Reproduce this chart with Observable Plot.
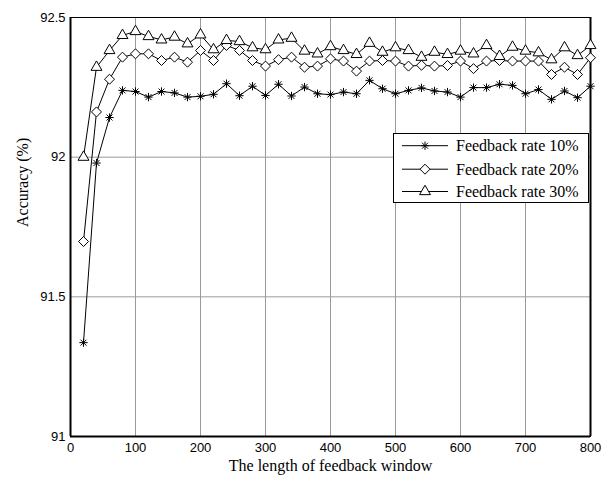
<!DOCTYPE html>
<html><head><meta charset="utf-8">
<script src="https://cdn.jsdelivr.net/npm/d3@7"></script>
<script src="https://cdn.jsdelivr.net/npm/@observablehq/plot@0.6"></script>
<style>
body{margin:0;background:#fff;}
#wrap{position:relative;width:603px;height:484px;}
#legend{position:absolute;left:393px;top:133px;width:194px;height:68px;border:1px solid #000;background:#fff;}
</style></head><body><div id="wrap"></div>
<script>
const windowLength = [20,40,60,80,100,120,140,160,180,200,220,240,260,280,300,320,340,360,380,400,420,440,460,480,500,520,540,560,580,600,620,640,660,680,700,720,740,760,780,800];
const rate10 = [91.336,91.979,92.142,92.239,92.235,92.215,92.235,92.23,92.215,92.218,92.225,92.263,92.22,92.254,92.221,92.261,92.219,92.251,92.227,92.224,92.233,92.227,92.275,92.245,92.227,92.239,92.248,92.237,92.233,92.215,92.249,92.249,92.261,92.257,92.227,92.242,92.207,92.237,92.213,92.254];
const rate20 = [91.698,92.162,92.279,92.358,92.37,92.37,92.346,92.358,92.34,92.382,92.346,92.40,92.382,92.346,92.326,92.349,92.358,92.322,92.326,92.352,92.344,92.308,92.344,92.346,92.344,92.326,92.329,92.326,92.328,92.344,92.317,92.344,92.346,92.344,92.344,92.344,92.296,92.322,92.296,92.356];
const rate30 = [92.0,92.322,92.382,92.436,92.45,92.432,92.42,92.43,92.406,92.438,92.385,92.418,92.414,92.392,92.385,92.42,92.426,92.38,92.37,92.396,92.382,92.368,92.408,92.376,92.392,92.382,92.358,92.376,92.368,92.38,92.37,92.4,92.361,92.394,92.38,92.374,92.349,92.392,92.364,92.4];
const seriesNames = ["Feedback rate 10%","Feedback rate 20%","Feedback rate 30%"];
const xTicks = [0,100,200,300,400,500,600,700,800];
const yTicks = [91,91.5,92,92.5];
const xLabel = "The length of feedback window";
const yLabel = "Accuracy (%)";

const rows = (vals, name) => windowLength.map((x,i)=>({x, y: vals[i], name}));
const d10 = rows(rate10, seriesNames[0]);
const d20 = rows(rate20, seriesNames[1]);
const d30 = rows(rate30, seriesNames[2]);

const serif = "'Liberation Serif','Times New Roman',serif";
const R10 = 2.8, R20 = 4.5, R30 = 5.2;

const plot = Plot.plot({
  width: 603, height: 484,
  marginLeft: 70, marginRight: 13, marginTop: 17, marginBottom: 48,
  style: {fontFamily: "'Liberation Sans', Arial, sans-serif", fontSize: "13px", background: "white", color: "black", overflow: "visible"},
  x: {domain: [0, 800], ticks: xTicks, tickSize: 0, tickPadding: 6, label: null, tickFormat: d => String(d)},
  y: {domain: [91, 92.5], ticks: yTicks, tickSize: 0, tickPadding: 5, label: null, tickFormat: d => String(d)},
  marks: [
    Plot.gridX(xTicks, {stroke: "#9a9a9a", strokeOpacity: 1}),
    Plot.gridY(yTicks, {stroke: "#9a9a9a", strokeOpacity: 1}),
    Plot.frame({stroke: "black", strokeWidth: 1}),
    Plot.ruleX([0, 800], {stroke: "black", strokeWidth: 2}),
    Plot.ruleY([91], {stroke: "black", strokeWidth: 2}),
    Plot.line(d10, {x: "x", y: "y", stroke: "black", strokeWidth: 1}),
    Plot.dot(d10, {x: "x", y: "y", symbol: "plus", r: R10, stroke: "black", strokeWidth: 1}),
    Plot.dot(d10, {x: "x", y: "y", symbol: "times", r: R10, stroke: "black", strokeWidth: 1}),
    Plot.line(d20, {x: "x", y: "y", stroke: "black", strokeWidth: 1}),
    Plot.dot(d20, {x: "x", y: "y", symbol: "diamond2", r: R20, stroke: "black", fill: "white", strokeWidth: 1}),
    Plot.line(d30, {x: "x", y: "y", stroke: "black", strokeWidth: 1}),
    Plot.dot(d30, {x: "x", y: "y", symbol: "triangle2", r: R30, stroke: "black", fill: "white", strokeWidth: 1}),
    Plot.text([xLabel], {frameAnchor: "bottom", dy: 34, fontFamily: serif, fontSize: 16, fill: "black"}),
    Plot.text([yLabel], {frameAnchor: "left", dx: -48, rotate: -90, fontFamily: serif, fontSize: 16, fill: "black"})
  ]
});
const wrap = document.getElementById("wrap");
wrap.appendChild(plot);

// legend
const legend = document.createElement("div");
legend.id = "legend";
wrap.appendChild(legend);
const lsvg = d3.select(legend).append("svg").attr("width", 194).attr("height", 68).style("display","block");
const rowY = [11.7, 35.2, 57.5];
const symSets = [
  [[d3.symbolPlus, R10], [d3.symbolTimes, R10]],
  [[d3.symbolDiamond2, R20]],
  [[d3.symbolTriangle2, R30]]
];
seriesNames.forEach((name, i) => {
  const g = lsvg.append("g").attr("transform", `translate(0,${rowY[i]})`);
  g.append("line").attr("x1", 8).attr("x2", 54).attr("stroke", "black").attr("stroke-width", 1);
  symSets[i].forEach(([sym, r]) => {
    g.append("path").attr("d", d3.symbol(sym, Math.PI * r * r)()).attr("transform", "translate(31,0)")
      .attr("stroke", "black").attr("fill", i === 0 ? "none" : "white").attr("stroke-width", 1);
  });
  g.append("text").attr("x", 62).attr("dy", "0.34em").attr("font-family", serif).attr("font-size", 16).attr("fill", "black").text(name);
});
</script>
</body></html>
